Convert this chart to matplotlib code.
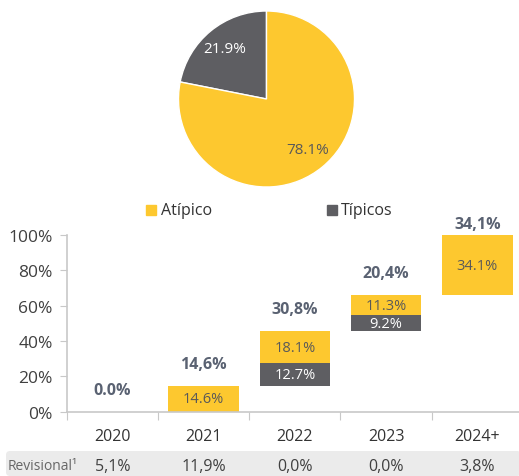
import matplotlib
matplotlib.use('Agg')
import matplotlib.pyplot as plt
from matplotlib.patches import FancyBboxPatch, Rectangle
import numpy as np

plt.rcParams['font.family'] = ['Open Sans', 'DejaVu Sans']

YELLOW = '#FDC82F'
GRAY = '#5E5E62'
TXT = '#595959'
TOT = '#5A6272'

# pie data
pie_labels = ['Típicos', 'Atípico']
pie_values = [21.9, 78.1]

# waterfall data
years = ['2020', '2021', '2022', '2023', '2024+']
tipicos = [0.0, 0.0, 12.7, 9.2, 0.0]
atipico = [0.0, 14.6, 18.1, 11.3, 34.1]
totals = ['0.0%', '14,6%', '30,8%', '20,4%', '34,1%']
revisional = ['5,1%', '11,9%', '0,0%', '0,0%', '3,8%']

W, H = 519, 477
fig = plt.figure(figsize=(W / 100, H / 100), dpi=100)
fig.patch.set_facecolor('white')

# ---------- pie ----------
r = 88
cx, cy = 266.5, 100
axp = fig.add_axes([(cx - r) / W, (H - cy - r) / H, 2 * r / W, 2 * r / H])
wedges, _, autotexts = axp.pie(pie_values, colors=[GRAY, YELLOW], startangle=90,
                               counterclock=True, autopct='%.1f%%', pctdistance=0.74,
                               wedgeprops=dict(edgecolor='white', linewidth=1))
autotexts[0].set_color('white')
autotexts[1].set_color(TXT)
for t in autotexts:
    t.set_fontsize(11)
axp.set_xlim(-1, 1); axp.set_ylim(-1, 1)
axp.axis('off')

# ---------- legend ----------
fig.patches.append(Rectangle((146 / W, (H - 216) / H), 10 / W, 10 / H,
                             transform=fig.transFigure, color=YELLOW))
fig.text(161 / W, (H - 211) / H, 'Atípico', fontsize=11.5, color='#333333', va='center')
fig.patches.append(Rectangle((327 / W, (H - 216) / H), 10 / W, 10 / H,
                             transform=fig.transFigure, color=GRAY))
fig.text(341 / W, (H - 211) / H, 'Típicos', fontsize=11.5, color='#333333', va='center')

# ---------- waterfall ----------
left, right = 66.7, 523
y0, y100 = 412.7, 236
ax = fig.add_axes([left / W, (H - y0) / H, (right - left) / W, (y0 - y100) / H])
x = np.arange(len(years))
tip = np.array(tipicos)
atp = np.array(atipico)
base = np.concatenate([[0], np.cumsum(tip + atp)[:-1]])

ax.bar(x, tip, bottom=base, width=0.77, color=GRAY)
ax.bar(x, atp, bottom=base + tip, width=0.77, color=YELLOW)

for i in range(len(years)):
    if tip[i] > 0:
        ax.text(x[i], base[i] + tip[i] / 2, f'{tip[i]:.1f}%', ha='center', va='center',
                color='white', fontsize=10.5)
    if atp[i] > 0:
        ax.text(x[i], base[i] + tip[i] + atp[i] / 2, f'{atp[i]:.1f}%', ha='center',
                va='center', color=TXT, fontsize=10.5)
    top = base[i] + tip[i] + atp[i]
    ax.text(x[i], min(top + 12.5, 106.5), totals[i], ha='center',
            va='center', color=TOT, fontsize=11.5, fontweight='bold', clip_on=False)

ax.set_xlim(-0.5, 4.5)
ax.set_ylim(0, 100)
ax.set_yticks([0, 20, 40, 60, 80, 100])
ax.set_yticklabels([f'{v}%' for v in [0, 20, 40, 60, 80, 100]])
ax.set_xticks(np.arange(-0.5, 4.5, 1.0))
ax.set_xticklabels([])
ax.tick_params(axis='y', length=5, color='#c8c8c8', labelsize=12.5, labelcolor='#404040', pad=5)
ax.tick_params(axis='x', length=6, color='#c8c8c8', direction='out')
for s in ['top', 'right']:
    ax.spines[s].set_visible(False)
for s in ['left', 'bottom']:
    ax.spines[s].set_color('#c8c8c8')
    ax.spines[s].set_linewidth(1.2)

for i, yr in enumerate(years):
    ax.text(x[i], -14, yr, ha='center', va='center', fontsize=11.5, color='#333333',
            clip_on=False)

# ---------- revisional row ----------
band = FancyBboxPatch((6 / W, 0), (W - 4) / W, (H - 452) / H,
                      boxstyle='round,pad=0,rounding_size=0.008',
                      transform=fig.transFigure, facecolor='#ebebeb', edgecolor='none')
fig.patches.append(band)
fig.text(8 / W, (H - 467) / H, 'Revisional¹', fontsize=10, color='#666666', va='center')
for i, v in enumerate(revisional):
    xp = left + (i + 0.5) * (right - left) / len(years)
    fig.text(xp / W, (H - 467) / H, v, fontsize=11.5, color='#404040', va='center', ha='center')

fig.savefig('out.png', dpi=100, facecolor='white')
